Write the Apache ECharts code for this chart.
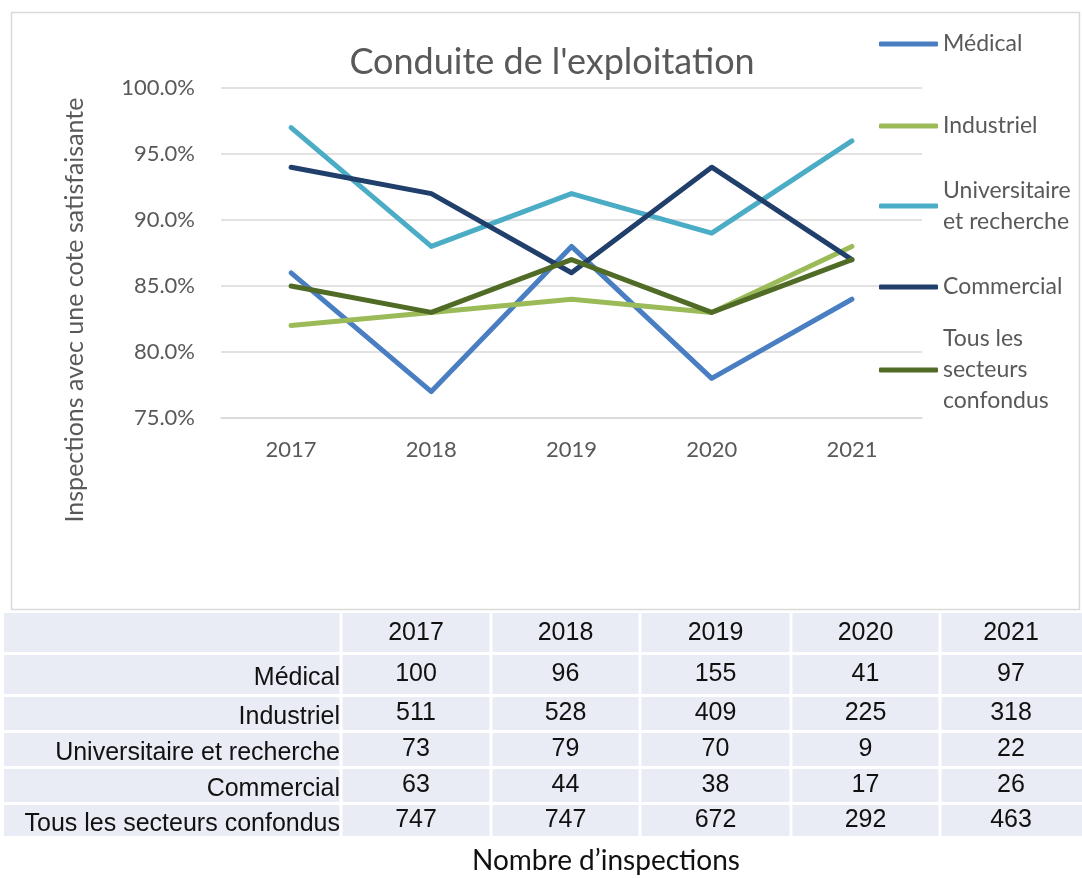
<!DOCTYPE html>
<html>
<head>
<meta charset="utf-8">
<script src="https://cdn.jsdelivr.net/npm/echarts@6/dist/echarts.min.js"></script>
<style>
html,body{margin:0;padding:0;background:#fff;}
#main{width:1082px;height:878px;}
</style>
</head>
<body>
<div id="main"></div>
<script>
// ---- data ----
const years = ['2017', '2018', '2019', '2020', '2021'];
const seriesNames = ['Médical', 'Industriel', 'Universitaire\net recherche', 'Commercial', 'Tous les\nsecteurs\nconfondus'];
const medical = [86, 77, 88, 78, 84];
const industriel = [82, 83, 84, 83, 88];
const universitaire = [97, 88, 92, 89, 96];
const commercial = [94, 92, 86, 94, 87];
const tous = [85, 83, 87, 83, 87];
const yTicks = [75, 80, 85, 90, 95, 100];

const tableRowLabels = ['Médical', 'Industriel', 'Universitaire et recherche', 'Commercial', 'Tous les secteurs confondus'];
const countsMedical = [100, 96, 155, 41, 97];
const countsIndustriel = [511, 528, 409, 225, 318];
const countsUniversitaire = [73, 79, 70, 9, 22];
const countsCommercial = [63, 44, 38, 17, 26];
const countsTous = [747, 747, 672, 292, 463];

// ---- styling / layout ----
const colors = ['#4A7EC2', '#9BBB59', '#4BACC6', '#203F6B', '#4F6B26'];
const allValues = [medical, industriel, universitaire, commercial, tous];
const allCounts = [countsMedical, countsIndustriel, countsUniversitaire, countsCommercial, countsTous];

const chart = echarts.init(document.getElementById('main'), null, {renderer: 'canvas'});

const legendIconY = [44, 126, 206, 287, 370];
const lineH = 31;
const legends = seriesNames.map((n, i) => {
  const lines = n.split('\n').length;
  const pad = (lines - 1) * lineH;
  const boxH = lines * lineH + pad;
  return {
    data: [n],
    orient: 'vertical',
    left: 879,
    top: legendIconY[i] - boxH / 2,
    padding: 0,
    itemWidth: 59,
    itemHeight: 5,
    icon: 'roundRect',
    selectedMode: false,
    textStyle: {
      fontFamily: 'Lato',
      fontSize: 23,
      color: '#595959',
      lineHeight: lineH,
      padding: [pad, 0, 0, 0]
    }
  };
});

// table graphics
const colEdges = [4, 341, 491, 640, 791, 940, 1082];
const rowEdges = [613, 653.5, 695.5, 731.5, 767.5, 803.5, 836];
const tableEls = [];
tableEls.push({type: 'rect', shape: {x: colEdges[0], y: rowEdges[0], width: colEdges[6] - colEdges[0], height: rowEdges[6] - rowEdges[0]}, style: {fill: '#E9EBF5'}});
for (let c = 1; c < colEdges.length - 1; c++) {
  tableEls.push({type: 'rect', shape: {x: colEdges[c] - 1.5, y: rowEdges[0], width: 3, height: rowEdges[6] - rowEdges[0]}, style: {fill: '#fff'}});
}
for (let r = 1; r < rowEdges.length - 1; r++) {
  tableEls.push({type: 'rect', shape: {x: colEdges[0], y: rowEdges[r] - 1.5, width: colEdges[6] - colEdges[0], height: 3}, style: {fill: '#fff'}});
}
const tFont = {fontFamily: 'Liberation Sans, Arial', fontSize: 25, fill: '#111'};
years.forEach((y, c) => {
  tableEls.push({type: 'text', x: (colEdges[c + 1] + colEdges[c + 2]) / 2, y: (rowEdges[0] + rowEdges[1]) / 2,
    style: Object.assign({text: y, textAlign: 'center', textVerticalAlign: 'middle'}, tFont)});
});
tableRowLabels.forEach((lab, r) => {
  const y0 = rowEdges[r + 1], y1 = rowEdges[r + 2];
  const cy = (y0 + y1) / 2;
  tableEls.push({type: 'text', x: colEdges[1] - 1, y: cy + 4,
    style: Object.assign({text: lab, textAlign: 'right', textVerticalAlign: 'middle'}, tFont)});
  allCounts[r].forEach((v, c) => {
    tableEls.push({type: 'text', x: (colEdges[c + 1] + colEdges[c + 2]) / 2, y: cy,
      style: Object.assign({text: String(v), textAlign: 'center', textVerticalAlign: 'middle'}, tFont)});
  });
});

const option = {
  backgroundColor: '#fff',
  animation: false,
  color: colors,
  title: {
    text: "Conduite de l'exploitation",
    left: 547,
    textAlign: 'center',
    top: 39,
    textStyle: {fontFamily: 'Lato', fontSize: 36, fontWeight: 'normal', color: '#595959'}
  },
  legend: legends,
  grid: {left: 221, right: 160, top: 88, bottom: 460},
  xAxis: {
    type: 'category',
    data: years,
    boundaryGap: true,
    axisLine: {lineStyle: {color: '#D9D9D9', width: 1.5}},
    axisTick: {show: false},
    axisLabel: {color: '#595959', fontFamily: 'Lato', fontSize: 22, margin: 21}
  },
  yAxis: {
    type: 'value',
    min: yTicks[0],
    max: yTicks[yTicks.length - 1],
    interval: 5,
    axisLine: {show: false},
    axisTick: {show: false},
    splitLine: {lineStyle: {color: '#D9D9D9', width: 1.5}},
    axisLabel: {color: '#595959', fontFamily: 'Lato', fontSize: 22, margin: 26,
      formatter: v => v.toFixed(1) + '%'},
    name: 'Inspections avec une cote satisfaisante',
    nameLocation: 'middle',
    nameRotate: 90,
    nameGap: 134,
    nameTextStyle: {color: '#595959', fontFamily: 'Lato', fontSize: 25, padding: [0, 114, 0, 0]}
  },
  series: seriesNames.map((n, i) => ({
    name: n,
    type: 'line',
    data: allValues[i],
    symbol: 'none',
    lineStyle: {width: 5, color: colors[i], cap: 'round', join: 'round'},
    itemStyle: {color: colors[i]},
    z: 2 + i
  })),
  graphic: [
    {type: 'rect', z: -10, shape: {x: 11.5, y: 12.5, width: 1068, height: 597}, style: {fill: 'none', stroke: '#D9D9D9', lineWidth: 1.5}},
    {type: 'group', children: tableEls},
    {type: 'text', left: 472, top: 847,
      style: {text: 'Nombre d\u2019inspections', fontFamily: 'Lato', fontSize: 28, fill: '#111'}}
  ]
};
chart.setOption(option);
</script>
</body>
</html>
